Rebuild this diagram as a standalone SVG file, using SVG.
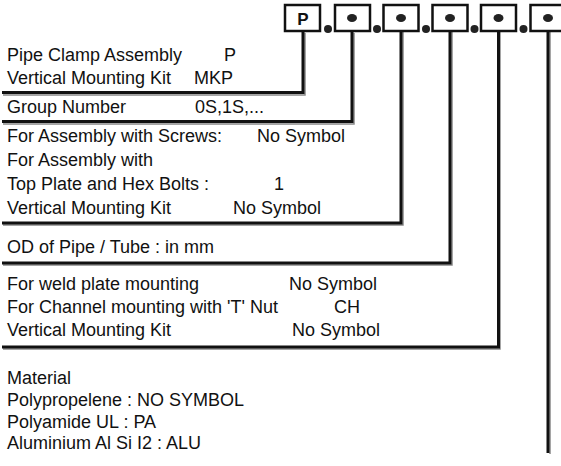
<svg xmlns="http://www.w3.org/2000/svg" width="561" height="466" viewBox="0 0 561 466">
<style>
text{font-family:"Liberation Sans",Arial,sans-serif;font-size:18px;fill:#111}
.box{fill:#fff;stroke:#111;stroke-width:2.5}
.ln{fill:none;stroke:#111;stroke-width:3;stroke-linejoin:miter}
.sh{fill:none;stroke:#888;stroke-width:1.5}
.dot{fill:#222}
.bt{font-weight:bold;font-size:17px}
</style>
<rect width="561" height="466" fill="#fff"/>
<g id="connectors">
<path class="sh" d="M305,33 V95 H3 M354,33 V124 H3 M403,20 V225 H3 M452,20 V265 H3 M500,20 V349 H3 M550,20 V454"/>
<path class="ln" d="M303,31 V92.5 H2"/>
<path class="ln" d="M352,31 V121.5 H2"/>
<path class="ln" d="M401,18 V223 H2"/>
<path class="ln" d="M450,18 V263 H2"/>
<path class="ln" d="M498.5,18 V347 H2"/>
<path class="ln" d="M548,18 V453"/>
</g>
<g id="code-boxes">
<rect class="box" x="285" y="5" width="35" height="26"/>
<text class="bt" x="303" y="25" text-anchor="middle">P</text>
<rect class="box" x="335" y="5" width="35" height="26"/>
<rect class="box" x="383.5" y="5" width="35" height="26"/>
<rect class="box" x="432.5" y="5" width="35" height="26"/>
<rect class="box" x="481" y="5" width="35" height="26"/>
<rect class="box" x="530.5" y="5" width="35" height="26"/>
<ellipse class="dot" cx="352" cy="18" rx="5" ry="4"/>
<ellipse class="dot" cx="401" cy="18" rx="5" ry="4"/>
<ellipse class="dot" cx="450" cy="18" rx="5" ry="4"/>
<ellipse class="dot" cx="498.5" cy="18" rx="5" ry="4"/>
<ellipse class="dot" cx="548" cy="18" rx="5" ry="4"/>
<circle class="dot" cx="328" cy="29" r="4"/>
<circle class="dot" cx="377" cy="29" r="4"/>
<circle class="dot" cx="426" cy="29" r="4"/>
<circle class="dot" cx="474.5" cy="29" r="4"/>
<circle class="dot" cx="523.5" cy="29" r="4"/>
</g>
<g id="pipe-clamp">
<text x="7" y="61">Pipe Clamp Assembly</text><text x="224" y="61">P</text>
<text x="7" y="84">Vertical Mounting Kit</text><text x="194" y="84">MKP</text>
</g>
<g id="group-number">
<text x="7" y="113">Group Number</text><text x="195" y="113">0S,1S,...</text>
</g>
<g id="assembly">
<text x="7" y="142">For Assembly with Screws:</text><text x="257" y="142">No Symbol</text>
<text x="7" y="166">For Assembly with</text>
<text x="7" y="190">Top Plate and Hex Bolts :</text><text x="274" y="190">1</text>
<text x="7" y="214">Vertical Mounting Kit</text><text x="233" y="214">No Symbol</text>
</g>
<g id="od">
<text x="7" y="253">OD of Pipe / Tube : in mm</text>
</g>
<g id="mounting">
<text x="7" y="290">For weld plate mounting</text><text x="289" y="290">No Symbol</text>
<text x="7" y="313">For Channel mounting with 'T' Nut</text><text x="334" y="313">CH</text>
<text x="7" y="336">Vertical Mounting Kit</text><text x="292" y="336">No Symbol</text>
</g>
<g id="material">
<text x="7" y="384">Material</text>
<text x="7" y="406">Polypropelene : NO SYMBOL</text>
<text x="7" y="428">Polyamide UL : PA</text>
<text x="7" y="449">Aluminium Al Si I2 : ALU</text>
</g>
</svg>
